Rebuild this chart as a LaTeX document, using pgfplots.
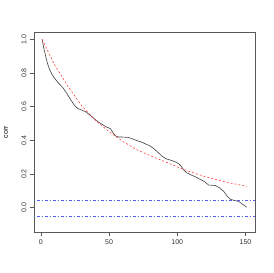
\documentclass[border=0pt]{standalone}
\usepackage{pgfplots}
\pgfplotsset{compat=1.18}
\usepackage{fontspec}
\setmainfont{Liberation Sans}
\definecolor{ciblue}{RGB}{90,90,255}
\definecolor{fitred}{RGB}{255,60,60}
\begin{document}
\begin{tikzpicture}[x=1pt,y=1pt]
\useasboundingbox (0,0) rectangle (273,273);
\begin{axis}[at={(34pt,41pt)}, anchor=south west, scale only axis,
  width=221pt, height=200pt,
  xmin=-5, xmax=157, ymin=-0.144, ymax=1.044,
  xtick={0,50,100,150}, ytick={0,0.2,0.4,0.6,0.8,1.0},
  yticklabels={0.0,0.2,0.4,0.6,0.8,1.0},
  /pgf/number format/assume math mode=true,
  xtick pos=bottom, ytick pos=left, tick align=outside, major tick length=4pt,
  axis line style={black!65, line width=0.6pt},
  tick style={black!65, line width=0.6pt},
  tick label style={font=\fontsize{7}{8}\selectfont, text=black!80},
  yticklabel style={rotate=90, anchor=south},
  ylabel={corr},
  ylabel style={font=\fontsize{7}{8}\selectfont, at={(axis description cs:-0.127,0.5)}, rotate=0, anchor=center},
  clip=true]
\addplot[draw=ciblue, line width=0.55pt, dash pattern=on 1pt off 2pt on 3pt off 2pt] coordinates {(-5,-0.05) (157,-0.05)};
\addplot[draw=ciblue, line width=0.55pt, dash pattern=on 1pt off 2pt on 3pt off 2pt] coordinates {(-5,0.047) (157,0.047)};
\addplot[black!75, line width=0.6pt] coordinates {
(1,1.0) (2,0.955) (3,0.92) (4,0.885) (5,0.855) (6,0.83) (8,0.795) (10,0.77)
(13,0.74) (16,0.715) (19,0.68) (22,0.64) (25,0.605) (27,0.59) (30,0.58)
(33,0.57) (36,0.55) (39,0.53) (42,0.51) (45,0.495) (48,0.48) (51,0.47)
(53,0.445) (55,0.425) (57,0.42) (60,0.42) (64,0.418) (67,0.41) (70,0.4)
(74,0.39) (77,0.378) (80,0.368) (83,0.35) (86,0.328) (89,0.305) (92,0.29)
(95,0.283) (98,0.275) (101,0.262) (103,0.245) (105,0.222) (107,0.208)
(110,0.195) (113,0.185) (117,0.168) (120,0.155) (123,0.135) (128,0.132)
(131,0.118) (134,0.098) (137,0.065) (139,0.05) (142,0.043) (145,0.038)
(148,0.02) (151,0.003)
};
\addplot[draw=fitred, line width=0.6pt, dash pattern=on 2pt off 2pt] coordinates {
(1,1.0) (10,0.85) (20,0.72) (30,0.605) (40,0.52) (50,0.452) (60,0.395)
(70,0.346) (80,0.31) (90,0.277) (100,0.243) (110,0.212) (120,0.186)
(130,0.164) (140,0.145) (151,0.127)
};
\end{axis}
\end{tikzpicture}
\end{document}
